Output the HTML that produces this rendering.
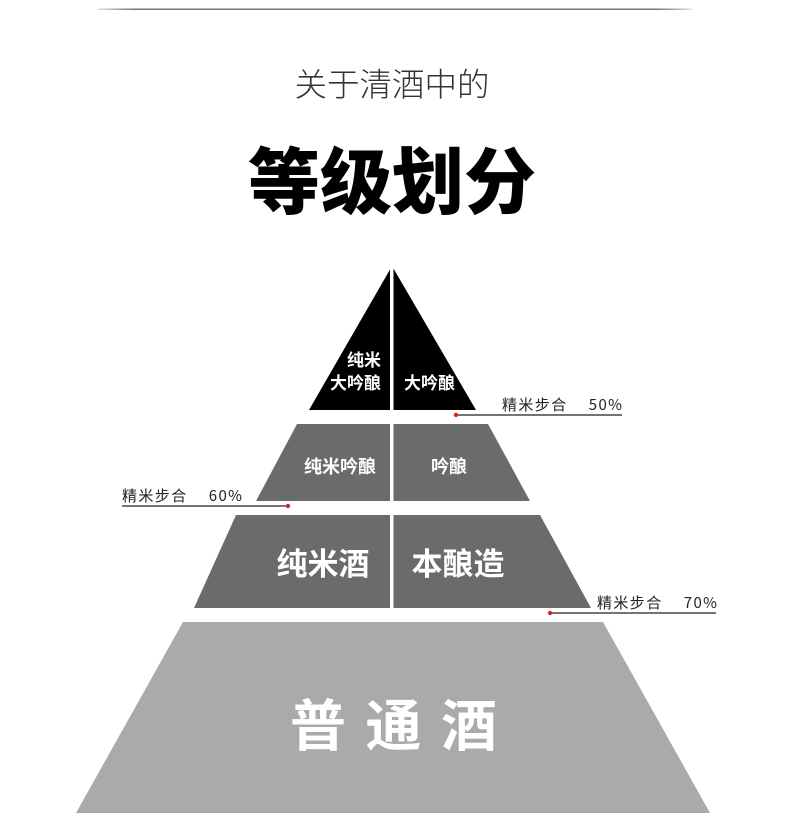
<!DOCTYPE html>
<html><head><meta charset="utf-8"><style>
body{margin:0;width:790px;height:838px;background:#fff;overflow:hidden;font-family:"Liberation Sans","Noto Sans CJK SC",sans-serif}
</style></head><body>
<svg width="790" height="838" viewBox="0 0 790 838" xmlns="http://www.w3.org/2000/svg" style="position:absolute;left:0;top:0">
<defs><linearGradient id="g" x1="0" x2="1"><stop offset="0" stop-color="#ddd"/><stop offset="0.06" stop-color="#777"/><stop offset="0.94" stop-color="#777"/><stop offset="1" stop-color="#ddd"/></linearGradient></defs>
<rect x="98" y="8.5" width="594" height="1.5" fill="url(#g)"/>
<text x="392" y="96" text-anchor="middle" font-size="32.5" fill="#333" font-family="Noto Sans CJK SC, sans-serif" font-weight="300">关于清酒中的</text>
<text x="392" y="208" text-anchor="middle" font-size="72" fill="#000" font-family="Noto Sans CJK SC, sans-serif" font-weight="900">等级划分</text>
<polygon points="392,266 476,410 309,410" fill="#000"/>
<rect x="390" y="262" width="3.5" height="150" fill="#fff"/>
<polygon points="297,424 488,424 530,501 256,501" fill="#6b6b6b"/>
<polygon points="236,515 540,515 591,608 194,608" fill="#6b6b6b"/>
<rect x="390" y="420" width="3.5" height="192" fill="#fff"/>
<polygon points="183,622 603,622 710,813 76,813" fill="#aaa"/>
<g fill="#fff" font-family="Noto Sans CJK SC, sans-serif" font-weight="700">
<text x="381" y="366" text-anchor="end" font-size="17">纯米</text>
<text x="381" y="389" text-anchor="end" font-size="17">大吟酿</text>
<text x="404" y="389" font-size="17">大吟酿</text>
<text x="340" y="473" text-anchor="middle" font-size="18">纯米吟酿</text>
<text x="449" y="473" text-anchor="middle" font-size="18">吟酿</text>
<text x="323" y="575" text-anchor="middle" font-size="31">纯米酒</text>
<text x="458" y="575" text-anchor="middle" font-size="31">本酿造</text>
<text x="290" y="746" font-size="56" textLength="207" lengthAdjust="spacing">普通酒</text>
</g>
<g font-size="15" fill="#222" font-family="Noto Sans CJK SC, sans-serif">
<text x="502" y="410" textLength="120" lengthAdjust="spacing">精米步合　 50%</text>
<text x="122" y="501" textLength="120" lengthAdjust="spacing">精米步合　 60%</text>
<text x="597" y="608" textLength="120" lengthAdjust="spacing">精米步合　 70%</text>
</g>
<g stroke="#222" stroke-width="1.2">
<line x1="456" y1="415" x2="622" y2="415"/>
<line x1="122" y1="506" x2="288" y2="506"/>
<line x1="550" y1="613" x2="716" y2="613"/>
</g>
<g fill="#e02020"><circle cx="456" cy="415" r="2.2"/><circle cx="288" cy="506" r="2.2"/><circle cx="550" cy="613" r="2.2"/></g>
</svg>
</body></html>
